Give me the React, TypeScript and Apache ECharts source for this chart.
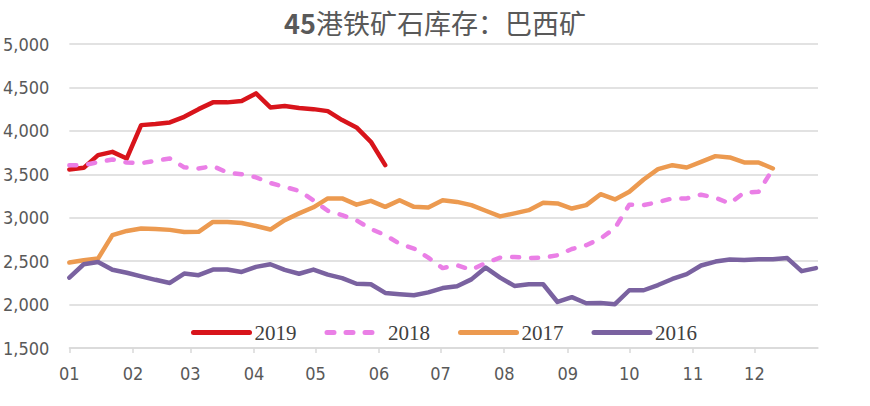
import React, { useEffect, useRef } from "react";
import * as echarts from "echarts";

const monthLabels = ["01", "02", "03", "04", "05", "06", "07", "08", "09", "10", "11", "12"];
const monthStartDays = [0, 31, 59, 90, 120, 151, 181, 212, 243, 273, 304, 334];
const yTicks = [1500, 2000, 2500, 3000, 3500, 4000, 4500, 5000];
const seriesNames = ["2019", "2018", "2017", "2016"];

// weekly values (week index i -> day 7*i)
const v2019 = [3555, 3574, 3720, 3758, 3682, 4066, 4078, 4097, 4162, 4250, 4328, 4328, 4343, 4431, 4270, 4285, 4262, 4250, 4227, 4124, 4040, 3874, 3605];
const v2018 = [3605, 3605, 3640, 3671, 3635, 3628, 3655, 3682, 3580, 3567, 3594, 3520, 3500, 3465, 3400, 3355, 3310, 3200, 3080, 3030, 2970, 2870, 2800, 2700, 2645, 2540, 2420, 2453, 2400, 2480, 2540, 2549, 2535, 2540, 2568, 2640, 2683, 2760, 2880, 3150, 3145, 3180, 3222, 3222, 3265, 3230, 3164, 3290, 3298, 3560];
const v2017 = [2484, 2510, 2530, 2799, 2848, 2876, 2870, 2860, 2835, 2837, 2952, 2952, 2940, 2905, 2864, 2971, 3050, 3120, 3222, 3222, 3150, 3194, 3125, 3202, 3125, 3118, 3202, 3182, 3145, 3080, 3015, 3050, 3087, 3171, 3164, 3106, 3145, 3271, 3210, 3298, 3440, 3560, 3605, 3578, 3643, 3709, 3694, 3636, 3636, 3567];
const v2016 = [2310, 2464, 2491, 2400, 2367, 2325, 2285, 2249, 2357, 2338, 2403, 2403, 2376, 2434, 2464, 2400, 2355, 2403, 2345, 2305, 2240, 2234, 2134, 2120, 2107, 2140, 2190, 2211, 2290, 2426, 2310, 2215, 2234, 2234, 2030, 2085, 2015, 2019, 2004, 2165, 2165, 2225, 2295, 2350, 2450, 2495, 2520, 2512, 2522, 2522, 2535, 2385, 2420];

const DAYS_PER_WEEK = 7;
const toPairs = (vals: number[]) => vals.map((v, i) => [i * DAYS_PER_WEEK, v]);

const colors = ["#d8141b", "#ea7fe6", "#ec9a50", "#7a62a0"];

export default function App() {
  const ref = useRef<HTMLDivElement>(null);
  useEffect(() => {
    if (!ref.current) return;
    const chart = echarts.init(ref.current, undefined, { renderer: "svg" });
    const values = [v2019, v2018, v2017, v2016];
    const lineBase = { width: 4.5, cap: "round", join: "round" };
    chart.setOption({
      animation: false,
      backgroundColor: "#ffffff",
      title: {
        text: "{a|45}{b|港铁矿石库存：巴西矿}",
        left: "center",
        top: 4,
        textStyle: {
          rich: {
            a: { fontFamily: "Noto Sans CJK SC", fontSize: 27, fontWeight: "bold", color: "#595959" },
            b: { fontFamily: "Noto Sans CJK SC", fontSize: 27, fontWeight: "normal", color: "#595959" },
          },
        },
      },
      legend: {
        data: seriesNames,
        top: 317,
        left: 186,
        itemWidth: 56,
        itemHeight: 14,
        itemGap: 28,
        itemStyle: { opacity: 0 },
        lineStyle: { width: 5, cap: "round" },
        textStyle: { fontFamily: "Liberation Serif", fontSize: 21, color: "#404040" },
      },
      grid: { left: 68, right: 52, top: 44, bottom: 58, containLabel: false },
      xAxis: {
        type: "value",
        min: 0,
        max: 365,
        splitLine: { show: false },
        axisLine: { show: true, lineStyle: { color: "#d9d9d9", width: 1.5 } },
        axisTick: { show: true, length: 5, customValues: monthStartDays, lineStyle: { color: "#d9d9d9", width: 1.5 } },
        axisLabel: {
          customValues: monthStartDays,
          formatter: (v: number) => monthLabels[monthStartDays.indexOf(Math.round(v))] ?? "",
          margin: 16,
          fontFamily: "Liberation Sans Narrow, DejaVu Sans Condensed, Open Sans",
          fontSize: 18,
          color: "#595959",
        },
      },
      yAxis: {
        type: "value",
        min: yTicks[0],
        max: yTicks[yTicks.length - 1],
        interval: 500,
        axisLine: { show: false },
        axisTick: { show: false },
        splitLine: { lineStyle: { color: "#d9d9d9", width: 1.5 } },
        axisLabel: {
          formatter: (v: number) => v.toLocaleString("en-US"),
          margin: 20,
          fontFamily: "Liberation Sans Narrow, DejaVu Sans Condensed, Open Sans",
          fontSize: 18,
          color: "#595959",
        },
      },
      series: seriesNames.map((name, k) => ({
        name,
        type: "line",
        data: toPairs(values[k]),
        symbol: "none",
        color: colors[k],
        lineStyle: k === 1 ? { ...lineBase, color: colors[k], type: [7, 12] } : { ...lineBase, color: colors[k] },
      })),
    });
    return () => chart.dispose();
  }, []);
  return <div ref={ref} style={{ position: "fixed", left: 0, top: 0, width: 870, height: 406 }} />;
}
